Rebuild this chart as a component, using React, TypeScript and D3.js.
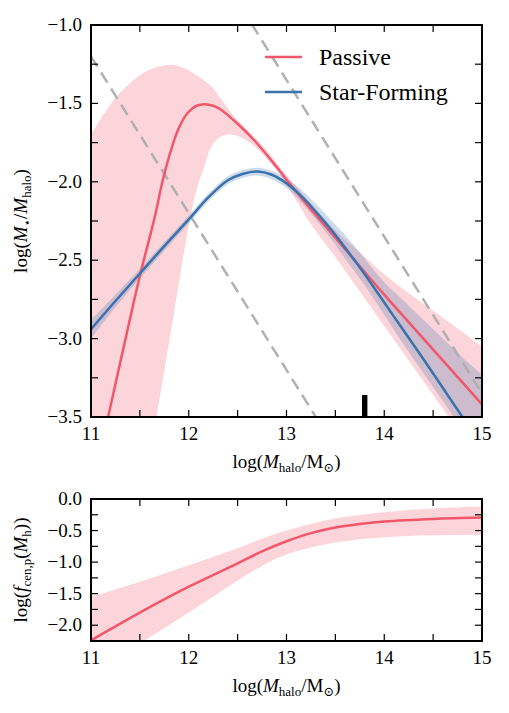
import * as d3 from "d3";
import React from "react";

// tick labels
const massTicks = [11, 12, 13, 14, 15];
const ratioTicks = [-1.0, -1.5, -2.0, -2.5, -3.0, -3.5];
const fracTicks = [0.0, -0.5, -1.0, -1.5, -2.0];

// passive SHMR (top panel, red)
const passiveMass = [11.1, 11.3, 11.5, 11.65, 11.75, 11.89, 11.99, 12.08, 12.16, 12.25, 12.33, 12.5, 12.67, 12.84, 12.98, 13.15, 13.31, 13.6, 14.0, 14.5, 15.0];
const passiveRatio = [-3.71, -3.15, -2.6, -2.23, -1.95, -1.67, -1.56, -1.515, -1.505, -1.515, -1.54, -1.63, -1.735, -1.86, -1.97, -2.1, -2.22, -2.43, -2.72, -3.07, -3.42];
const passiveBandMass = [11.0, 11.15, 11.3, 11.5, 11.67, 11.84, 12.0, 12.08, 12.15, 12.23, 12.33, 12.45, 12.6, 12.78, 12.95, 13.1, 13.25, 13.5, 13.75, 14.0, 14.25, 14.5, 14.75, 15.0];
const passiveBandHigh = [-1.7, -1.55, -1.43, -1.32, -1.27, -1.255, -1.29, -1.32, -1.35, -1.39, -1.47, -1.57, -1.67, -1.785, -1.92, -2.03, -2.14, -2.31, -2.45, -2.59, -2.71, -2.82, -2.935, -3.05];
const passiveBandLow = [-6.0, -5.45, -4.87, -4.13, -3.5, -2.87, -2.28, -2.05, -1.92, -1.78, -1.71, -1.7, -1.74, -1.84, -1.97, -2.12, -2.27, -2.48, -2.7, -2.92, -3.14, -3.36, -3.58, -3.8];

// star-forming SHMR (top panel, blue)
const sfMass = [11.0, 11.25, 11.5, 11.75, 12.0, 12.2, 12.4, 12.55, 12.7, 12.85, 13.0, 13.15, 13.3, 13.45, 13.6, 13.8, 14.0, 14.2, 14.4, 14.6, 14.8, 15.0];
const sfRatio = [-2.94, -2.76, -2.585, -2.41, -2.24, -2.1, -1.99, -1.95, -1.935, -1.955, -2.01, -2.09, -2.19, -2.3, -2.42, -2.59, -2.77, -2.95, -3.13, -3.315, -3.5, -3.68];
const sfBandLow = [-3.0, -2.8, -2.615, -2.44, -2.265, -2.125, -2.015, -1.975, -1.96, -1.985, -2.04, -2.13, -2.24, -2.36, -2.49, -2.66, -2.85, -3.04, -3.22, -3.4, -3.58, -3.77];
const sfBandHigh = [-2.88, -2.72, -2.555, -2.385, -2.215, -2.075, -1.965, -1.925, -1.91, -1.93, -1.98, -2.05, -2.14, -2.24, -2.34, -2.49, -2.64, -2.76, -2.88, -3.0, -3.12, -3.23];

// lines of constant stellar mass (log M*)
const fixedStellarMass = [9.8, 11.65];
const markerMass = 13.8;
const markerRange = [-3.5, -3.36];

// central passive fraction (bottom panel)
const fcenMass = [11.0, 11.5, 12.0, 12.5, 12.75, 13.0, 13.25, 13.5, 13.75, 14.0, 14.5, 15.0];
const fcenValue = [-2.24, -1.8, -1.39, -1.02, -0.83, -0.67, -0.54, -0.45, -0.395, -0.355, -0.315, -0.295];
const fcenBandMass = [11.0, 11.54, 12.0, 12.5, 12.75, 13.0, 13.5, 14.0, 14.5, 15.0];
const fcenHigh = [-1.55, -1.29, -1.05, -0.78, -0.63, -0.5, -0.31, -0.21, -0.15, -0.12];
const fcenLow = [-2.75, -2.25, -1.8, -1.29, -1.06, -0.88, -0.69, -0.605, -0.575, -0.57];

const RED = "#f2566b";
const BLUE = "#3a72ad";
const FONT = "Liberation Serif, DejaVu Serif, serif";

const L = 91, R = 482;
const T1 = 25, B1 = 417;
const T2 = 499, B2 = 641;

const x = d3.scaleLinear().domain([11, 15]).range([L, R]);
const yTop = d3.scaleLinear().domain([-1, -3.5]).range([T1, B1]);
const yBot = d3.scaleLinear().domain([0, -2.25]).range([T2, B2]);
const fmt = d3.format(".1f");

const Frame = ({ y, top, bottom, yMinor, yLabels }: any) => {
	const xMinor = d3.range(11, 15.001, 0.5);
	return (
		<g>
			{xMinor.map((v) => (
				<g key={"x" + v}>
					<line x1={x(v)} x2={x(v)} y1={bottom} y2={bottom - 7} stroke="#000" strokeWidth={1.2} />
					<line x1={x(v)} x2={x(v)} y1={top} y2={top + 7} stroke="#000" strokeWidth={1.2} />
				</g>
			))}
			{yMinor.map((v: number) => (
				<g key={"y" + v}>
					<line x1={L} x2={L + 7} y1={y(v)} y2={y(v)} stroke="#000" strokeWidth={1.2} />
					<line x1={R} x2={R - 7} y1={y(v)} y2={y(v)} stroke="#000" strokeWidth={1.2} />
				</g>
			))}
			<rect x={L} y={top} width={R - L} height={bottom - top} fill="none" stroke="#000" strokeWidth={2} />
			{massTicks.map((v) => (
				<text key={"xl" + v} x={x(v)} y={bottom + 23} textAnchor="middle" fontSize={19}>
					{v}
				</text>
			))}
			{yLabels.map((v: number) => (
				<text key={"yl" + v} x={L - 9} y={y(v) + 6} textAnchor="end" fontSize={19}>
					{fmt(v)}
				</text>
			))}
		</g>
	);
};

const MassLabel = ({ yPos }: { yPos: number }) => (
	<text x={(L + R) / 2} y={yPos} textAnchor="middle" fontSize={19}>
		log(<tspan fontStyle="italic">M</tspan>
		<tspan fontSize={13} dy={4}>halo</tspan>
		<tspan dy={-4}>/M</tspan>
		<tspan fontSize={13} dy={4}>⊙</tspan>
		<tspan dy={-4}>)</tspan>
	</text>
);

export default function App() {
	const line = (yS: any) =>
		d3.line<[number, number]>().x((d) => x(d[0])).y((d) => yS(d[1])).curve(d3.curveCatmullRom.alpha(0.5));
	const band = (yS: any) =>
		d3
			.area<[number, number, number]>()
			.x((d) => x(d[0]))
			.y0((d) => yS(d[1]))
			.y1((d) => yS(d[2]))
			.curve(d3.curveCatmullRom.alpha(0.5));

	const passiveLine = line(yTop)(passiveMass.map((m, i) => [m, passiveRatio[i]]));
	const sfLine = line(yTop)(sfMass.map((m, i) => [m, sfRatio[i]]));
	const passiveArea = band(yTop)(passiveBandMass.map((m, i) => [m, passiveBandLow[i], passiveBandHigh[i]]));
	const sfArea = band(yTop)(sfMass.map((m, i) => [m, sfBandLow[i], sfBandHigh[i]]));
	const fcenLine = line(yBot)(fcenMass.map((m, i) => [m, fcenValue[i]]));
	const fcenArea = band(yBot)(fcenBandMass.map((m, i) => [m, fcenLow[i], fcenHigh[i]]));

	return (
		<svg
			width={509}
			height={713}
			style={{ position: "absolute", left: 0, top: 0, background: "#fff", fontFamily: FONT }}>
			<defs>
				<clipPath id="clipTop">
					<rect x={L} y={T1} width={R - L} height={B1 - T1} />
				</clipPath>
				<clipPath id="clipBot">
					<rect x={L} y={T2} width={R - L} height={B2 - T2} />
				</clipPath>
			</defs>

			<g clipPath="url(#clipTop)">
				<path d={passiveArea || ""} fill={RED} fillOpacity={0.25} />
				<path d={sfArea || ""} fill={BLUE} fillOpacity={0.25} />
				{fixedStellarMass.map((ms) => (
					<line
						key={ms}
						x1={x(11)}
						x2={x(15)}
						y1={yTop(ms - 11)}
						y2={yTop(ms - 15)}
						stroke="#b0b0b0"
						strokeWidth={2.5}
						strokeDasharray="12,7"
					/>
				))}
				<path d={passiveLine || ""} fill="none" stroke={RED} strokeWidth={2.5} />
				<path d={sfLine || ""} fill="none" stroke={BLUE} strokeWidth={2.5} />
				<rect
					x={x(markerMass) - 2.7}
					y={yTop(markerRange[1])}
					width={5.4}
					height={yTop(markerRange[0]) - yTop(markerRange[1])}
					fill="#000"
				/>
			</g>

			<Frame y={yTop} top={T1} bottom={B1} yMinor={d3.range(-3.5, -0.999, 0.25)} yLabels={ratioTicks} />

			{/* legend */}
			<line x1={265} x2={302} y1={57} y2={57} stroke={RED} strokeWidth={2.5} />
			<text x={319} y={65} fontSize={24}>Passive</text>
			<line x1={265} x2={302} y1={92} y2={92} stroke={BLUE} strokeWidth={2.5} />
			<text x={319} y={100} fontSize={24}>Star-Forming</text>

			<MassLabel yPos={468} />
			<text transform={`translate(27, ${(T1 + B1) / 2}) rotate(-90)`} textAnchor="middle" fontSize={19}>
				log(<tspan fontStyle="italic">M</tspan>
				<tspan fontSize={12} dy={4} style={{ fontFamily: "DejaVu Sans" }}>⋆</tspan>
				<tspan dy={-4}>/</tspan>
				<tspan fontStyle="italic">M</tspan>
				<tspan fontSize={13} dy={4}>halo</tspan>
				<tspan dy={-4}>)</tspan>
			</text>

			<g clipPath="url(#clipBot)">
				<path d={fcenArea || ""} fill={RED} fillOpacity={0.25} />
				<path d={fcenLine || ""} fill="none" stroke={RED} strokeWidth={2.5} />
			</g>
			<Frame y={yBot} top={T2} bottom={B2} yMinor={d3.range(-2.25, 0.001, 0.25)} yLabels={fracTicks} />
			<MassLabel yPos={692} />
			<text transform={`translate(27, ${(T2 + B2) / 2}) rotate(-90)`} textAnchor="middle" fontSize={19}>
				log(<tspan fontStyle="italic">f</tspan>
				<tspan fontSize={13} dy={4}>cen,p</tspan>
				<tspan dy={-4}>(</tspan>
				<tspan fontStyle="italic">M</tspan>
				<tspan fontSize={13} dy={4}>h</tspan>
				<tspan dy={-4}>))</tspan>
			</text>
		</svg>
	);
}
